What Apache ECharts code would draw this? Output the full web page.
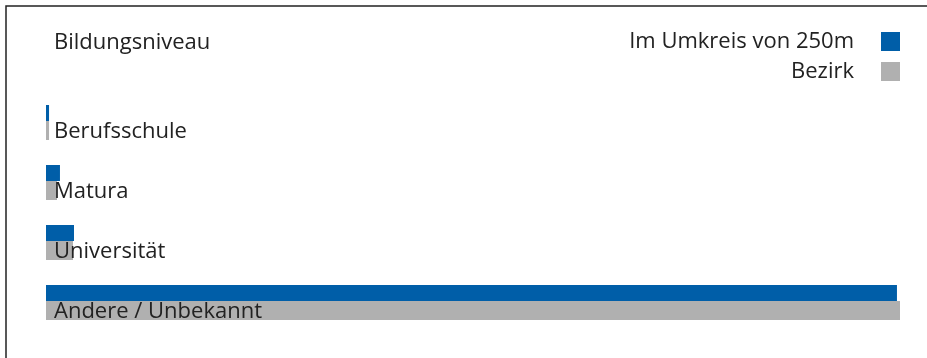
<!DOCTYPE html>
<html>
<head>
<meta charset="utf-8">
<script src="https://cdn.jsdelivr.net/npm/echarts@6/dist/echarts.min.js"></script>
<style>
html,body{margin:0;padding:0;background:#fff;}
#chart{width:927px;height:358px;}
</style>
</head>
<body>
<div id="chart"></div>
<script>
const categories = ["Berufsschule", "Matura", "Universität", "Andere / Unbekannt"];
const umkreis = [0.34, 1.56, 3.13, 95.08];
const bezirk = [0.34, 1.23, 3.02, 95.42];
const seriesNames = ["Im Umkreis von 250m", "Bezirk"];
const titleText = "Bildungsniveau";

const FONT = "Open Sans";
const FS = 22;
const FW = 'normal';
const TXT = "#222";

const chart = echarts.init(document.getElementById('chart'));
chart.setOption({
  animation: false,
  title: {
    text: titleText, left: 49, top: 27,
    textStyle: {fontFamily: FONT, fontSize: FS, fontWeight: FW, color: TXT}
  },
  legend: {
    orient: 'vertical', right: 22, top: 25, align: 'right',
    itemWidth: 19, itemHeight: 19, itemGap: 7, icon: 'rect',
    textStyle: {fontFamily: FONT, fontSize: FS, fontWeight: FW, color: TXT, lineHeight: 23, padding: [0, 22, 0, 0]},
    data: seriesNames
  },
  graphic: [{
    type: 'rect', shape: {x: 6, y: 6, width: 2000, height: 2000},
    style: {fill: 'none', stroke: '#222', lineWidth: 1.5}, silent: true
  }],
  grid: {left: 46, right: 27, top: 92.5, height: 240},
  xAxis: {type: 'value', min: 0, max: 'dataMax', show: false},
  yAxis: {type: 'category', data: categories, inverse: true, show: false},
  series: [
    {name: seriesNames[0], type: 'bar', data: umkreis, barWidth: 16, barGap: 0,
     itemStyle: {color: '#005ea8'}},
    {name: seriesNames[1], type: 'bar', data: bezirk, barWidth: 19, barGap: 0,
     itemStyle: {color: '#b0b0b0'},
     label: {show: true, position: 'insideLeft', distance: 8, offset: [0, 1],
       formatter: p => categories[p.dataIndex],
       fontFamily: FONT, fontSize: FS, fontWeight: FW, color: TXT}}
  ]
});
</script>
</body>
</html>
